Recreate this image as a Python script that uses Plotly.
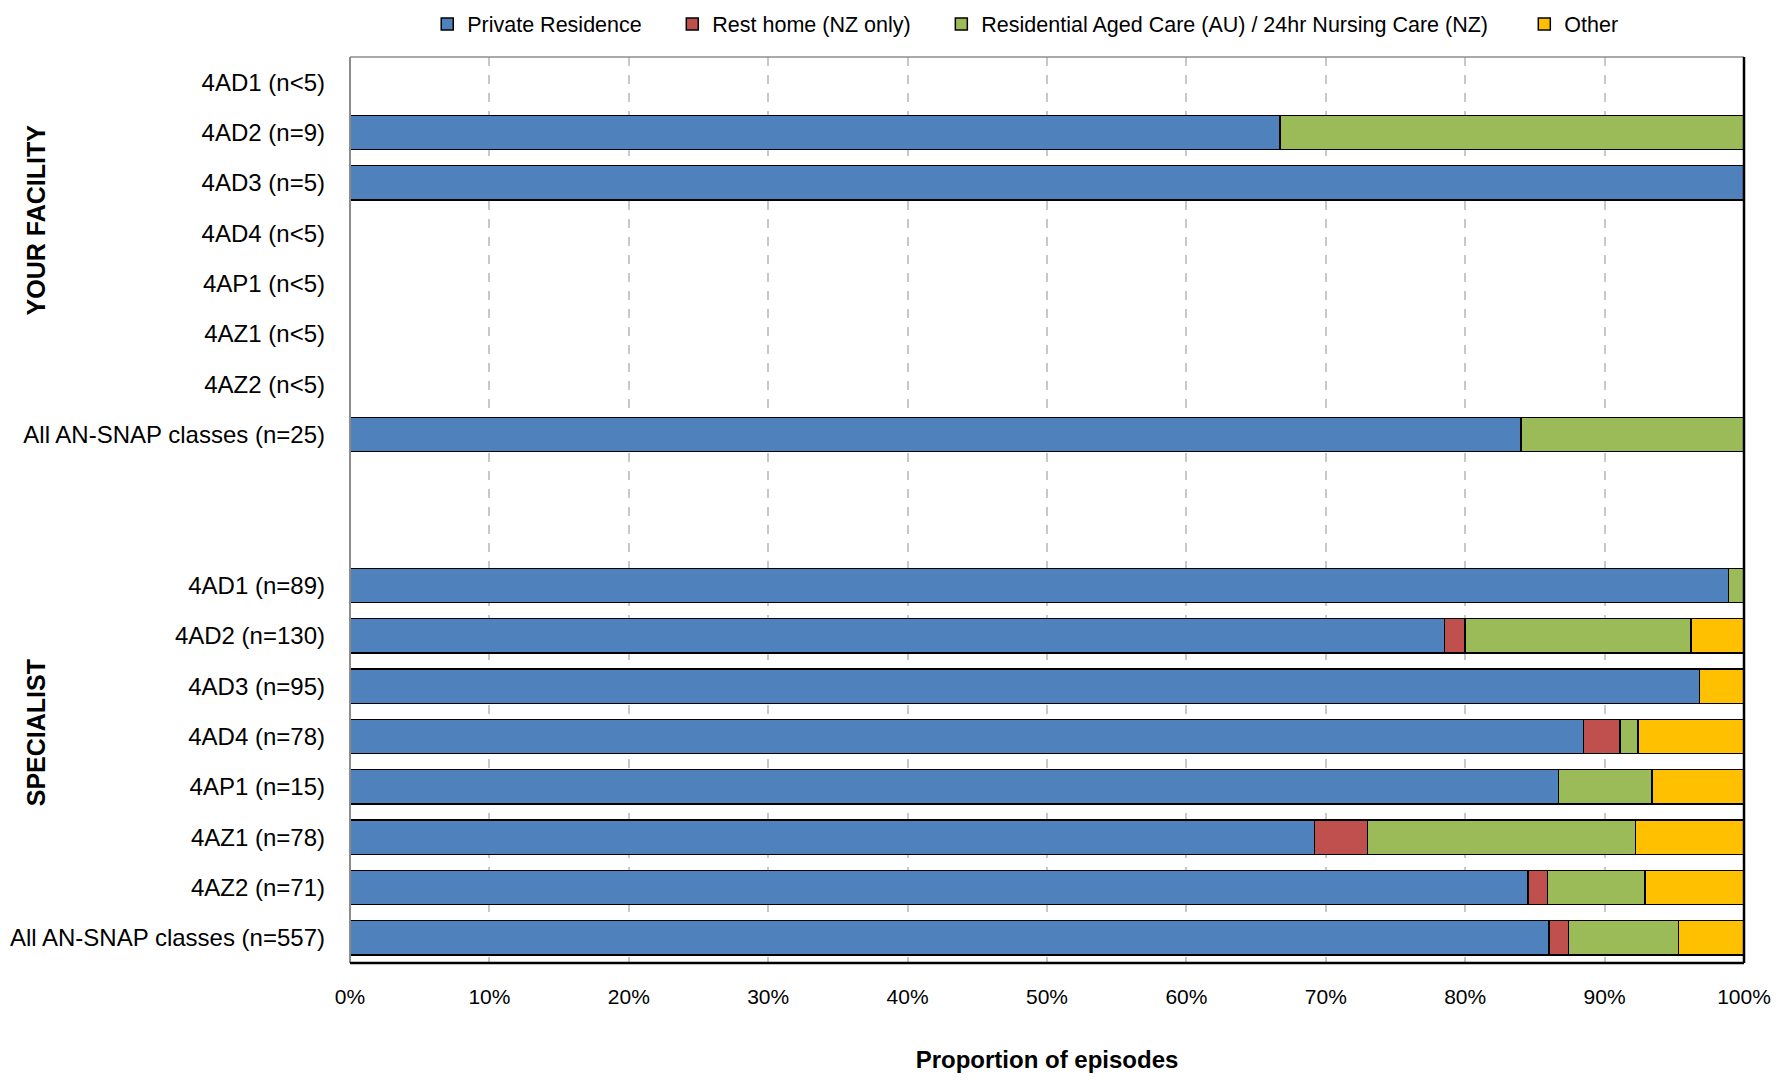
import plotly.graph_objects as go

# Categories (top to bottom); two blank spacer rows between the groups
categories = [
    "4AD1 (n<5)", "4AD2 (n=9)", "4AD3 (n=5)", "4AD4 (n<5)", "4AP1 (n<5)",
    "4AZ1 (n<5)", "4AZ2 (n<5)", "All AN-SNAP classes (n=25)",
    " ", "  ",
    "4AD1 (n=89)", "4AD2 (n=130)", "4AD3 (n=95)", "4AD4 (n=78)", "4AP1 (n=15)",
    "4AZ1 (n=78)", "4AZ2 (n=71)", "All AN-SNAP classes (n=557)",
]

series_names = [
    "Private Residence",
    "Rest home (NZ only)",
    "Residential Aged Care (AU) / 24hr Nursing Care (NZ)",
    "Other",
]

private_residence = [None, 66.7, 100.0, None, None, None, None, 84.0,
                     None, None,
                     98.9, 78.5, 96.8, 88.5, 86.7, 69.2, 84.5, 86.0]
rest_home = [None, None, None, None, None, None, None, None,
             None, None,
             None, 1.5, None, 2.6, None, 3.8, 1.4, 1.4]
residential_aged_care = [None, 33.3, None, None, None, None, None, 16.0,
                         None, None,
                         1.1, 16.2, None, 1.3, 6.7, 19.2, 7.0, 7.9]
other = [None, None, None, None, None, None, None, None,
         None, None,
         None, 3.8, 3.2, 7.6, 6.6, 7.8, 7.1, 4.7]

x_ticks = [0, 10, 20, 30, 40, 50, 60, 70, 80, 90, 100]
group_labels = ["YOUR FACILITY", "SPECIALIST"]

colors = ["#4F81BD", "#C0504D", "#9BBB59", "#FFC000"]
legend_ids = ["legend", "legend2", "legend3", "legend4"]
legend_x = [0.0554, 0.2312, 0.4242, 0.8424]
FONT = "Liberation Sans, Arial, sans-serif"

fig = go.Figure()
for name, vals, col, lg in zip(series_names,
                               [private_residence, rest_home, residential_aged_care, other],
                               colors, legend_ids):
    fig.add_trace(go.Bar(
        y=categories, x=vals, name=name, orientation="h",
        marker=dict(color=col, line=dict(color="#000000", width=1.5)),
        width=0.68, legend=lg,
    ))

legend_common = dict(orientation="h", xanchor="left", yref="container",
                     y=1 - 16 / 1081, yanchor="middle", font=dict(size=21.5),
                     itemwidth=30, bgcolor="rgba(0,0,0,0)")

fig.update_layout(
    barmode="stack",
    width=1787, height=1081,
    margin=dict(l=342, r=51, t=49, b=126, autoexpand=False),
    paper_bgcolor="white", plot_bgcolor="white",
    font=dict(family=FONT, color="#000000", size=22),
    showlegend=True,
)
for lg, lx in zip(legend_ids, legend_x):
    fig.update_layout({lg: dict(legend_common, x=lx)})

fig.update_xaxes(
    range=[0, 100], tickvals=x_ticks, ticktext=[f"{v}%" for v in x_ticks],
    showgrid=True, gridcolor="#C8C8C8", griddash="dash", gridwidth=1.5,
    zeroline=False, showline=False, ticks="", automargin=False,
    tickfont=dict(size=21), ticklabelstandoff=19,
    title=dict(text="<b>Proportion of episodes</b>", standoff=44,
               font=dict(size=24)),
)
fig.update_yaxes(
    type="category", categoryorder="array", categoryarray=categories,
    autorange="reversed", showgrid=False, zeroline=False, showline=False,
    ticks="", tickfont=dict(size=24), ticklabelstandoff=24, automargin=False,
)

# plot frame
fig.add_shape(type="line", xref="paper", yref="paper", x0=0, x1=1, y0=1, y1=1,
              line=dict(color="#8C8C8C", width=1.5))
fig.add_shape(type="line", xref="paper", yref="paper", x0=0, x1=0, y0=0, y1=1,
              line=dict(color="#8C8C8C", width=2))
fig.add_shape(type="line", xref="paper", yref="paper", x0=1, x1=1, y0=0, y1=1,
              line=dict(color="#000000", width=2.5))
fig.add_shape(type="line", xref="paper", yref="paper", x0=0, x1=1, y0=0, y1=0,
              line=dict(color="#000000", width=2.5))

# group labels
for txt, ypos in zip(group_labels, [0.82, 0.254]):
    fig.add_annotation(text=f"<b>{txt}</b>", xref="paper", yref="paper",
                       x=-0.225, y=ypos, textangle=-90, showarrow=False,
                       font=dict(size=25),
                       xanchor="center", yanchor="middle")

fig.write_html("out.html")
